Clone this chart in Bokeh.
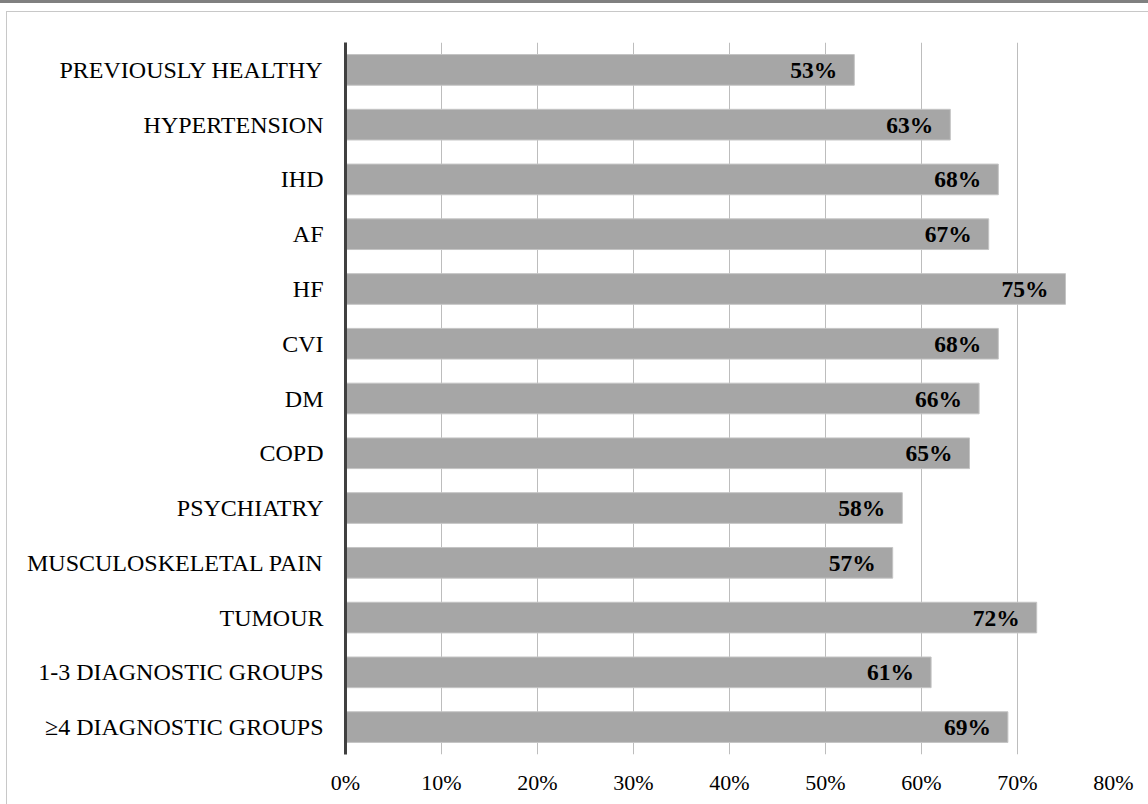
from bokeh.plotting import figure
from bokeh.models import FactorRange, Range1d, ColumnDataSource, Div, FixedTicker, CustomJSTickFormatter
from bokeh.layouts import column
from bokeh.core.properties import value
from bokeh.embed import file_html
from bokeh.resources import INLINE

categories = ["PREVIOUSLY HEALTHY", "HYPERTENSION", "IHD", "AF", "HF", "CVI", "DM", "COPD",
              "PSYCHIATRY", "MUSCULOSKELETAL PAIN", "TUMOUR", "1-3 DIAGNOSTIC GROUPS",
              "\u22654 DIAGNOSTIC GROUPS"]
values = [53, 63, 68, 67, 75, 68, 66, 65, 58, 57, 72, 61, 69]
labels = [f"{v}%" for v in values]
x_ticks = [0, 10, 20, 30, 40, 50, 60, 70, 80]

FONT = "Liberation Serif"

src = ColumnDataSource(dict(cat=categories, val=values, lab=labels))

p = figure(width=1142, height=793, output_backend="svg", toolbar_location=None,
           y_range=FactorRange(factors=categories[::-1], range_padding=0),
           x_range=Range1d(0, 80),
           min_border_left=338, min_border_right=36, min_border_top=30, min_border_bottom=51)
p.margin = (8, 0, 0, 6)
p.styles = {"border-top": "1px solid #c8c8c8", "border-left": "1px solid #c8c8c8"}
p.outline_line_color = None
p.background_fill_color = "white"
p.border_fill_color = "white"

p.hbar(y="cat", right="val", left=0, height=0.56, source=src,
       fill_color="#a6a6a6", line_color="#c4c4c4", line_width=1)
p.text(x="val", y="cat", text="lab", source=src, x_offset=-17,
       text_align="right", text_baseline="middle",
       text_font=value(FONT), text_font_style="bold", text_font_size="23.5px", text_color="black")

p.ygrid.grid_line_color = None
p.xgrid.grid_line_color = "#bdbdbd"
p.xgrid.grid_line_width = 1
p.xgrid.level = "underlay"
p.xaxis.ticker = FixedTicker(ticks=x_ticks)
p.xaxis.formatter = CustomJSTickFormatter(code="return tick + '%';")
p.xaxis.axis_line_color = None
p.xaxis.major_tick_line_color = None
p.xaxis.minor_tick_line_color = None
p.xaxis.major_label_standoff = 9
p.xaxis.major_label_text_font = FONT
p.xaxis.major_label_text_font_size = "22px"
p.xaxis.major_label_text_color = "black"

p.yaxis.axis_line_color = "#404040"
p.yaxis.axis_line_width = 3
p.yaxis.major_tick_line_color = None
p.yaxis.minor_tick_line_color = None
p.yaxis.major_label_standoff = 16
p.yaxis.major_label_text_font = FONT
p.yaxis.major_label_text_font_size = "24px"
p.yaxis.major_label_text_color = "black"

top = Div(text="", width=1148, height=3, styles={"background-color": "#808080"}, margin=(0, 0, 0, 0))
layout = column(top, p, spacing=0)

open("out.html", "w").write(file_html(layout, INLINE))
